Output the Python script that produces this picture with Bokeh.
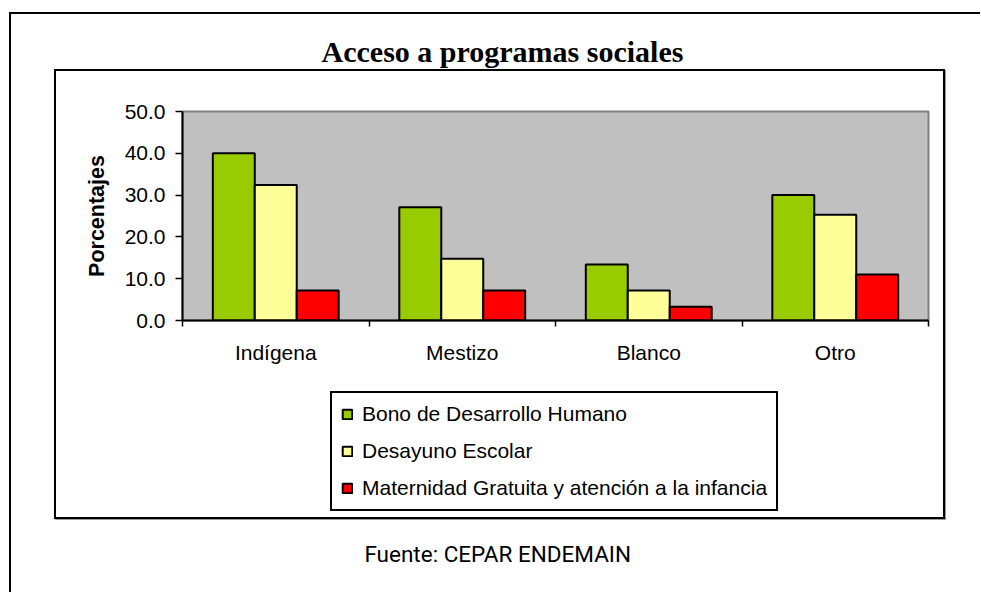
from bokeh.plotting import figure
from bokeh.layouts import column
from bokeh.models import (ColumnDataSource, Range1d, FixedTicker, NumeralTickFormatter,
                          Legend, LegendItem, Label, InlineStyleSheet)
from bokeh.transform import dodge
from bokeh.embed import file_html
from bokeh.resources import INLINE

# ---- data ----
categories = ["Indígena", "Mestizo", "Blanco", "Otro"]
bono = [40.0, 27.1, 13.4, 30.0]
desayuno = [32.4, 14.8, 7.2, 25.3]
maternidad = [7.2, 7.2, 3.3, 11.0]
series_names = ["Bono de Desarrollo Humano", "Desayuno Escolar",
                "Maternidad Gratuita y atención a la infancia"]
y_ticks = [0, 10, 20, 30, 40, 50]

title_text = "Acceso a programas sociales"
source_text = "Fuente:  CEPAR ENDEMAIN"

pos = list(range(1, len(categories) + 1))
src = ColumnDataSource(dict(x=pos, bono=bono, desayuno=desayuno, maternidad=maternidad))

W = 980
TOP_H, MAIN_H, BOT_H = 96, 275, 221
FRAME_L = 182          # frames of the stacked figures are aligned by the column layout
font = "Liberation Sans"
colors = ["#99CC00", "#FFFF99", "#FF0000"]
fields = ["bono", "desayuno", "maternidad"]

css = InlineStyleSheet(css="""
:host { position: relative; }
:host::before { content: ""; position: absolute; left: 9px; top: 12px;
  width: 971px; height: 580px; box-sizing: border-box;
  border-left: 2px solid black; border-top: 2px solid black;
  z-index: 100; pointer-events: none; }
:host::after { content: ""; position: absolute; left: 54px; top: 69px;
  width: 891px; height: 450px; box-sizing: border-box;
  border: 2px solid black; box-shadow: 1px 1px 0 #9a9a9a;
  z-index: 100; pointer-events: none; }
""")


def blank(h):
    f = figure(width=W, height=h, output_backend="svg", toolbar_location=None,
               x_axis_type=None, y_axis_type=None, min_border=0,
               x_range=Range1d(0, 1), y_range=Range1d(0, 1))
    f.outline_line_color = None
    f.background_fill_color = "white"
    f.border_fill_color = "white"
    return f


# ---- title strip ----
top = blank(TOP_H)
top.add_layout(Label(x=502 - FRAME_L, y=TOP_H - 51, x_units="screen", y_units="screen",
                     text=title_text, text_align="center", text_baseline="alphabetic",
                     text_font="Liberation Serif", text_font_style="bold",
                     text_font_size="30px", text_color="black"))

# ---- main chart ----
p = figure(width=W, height=MAIN_H, output_backend="svg", toolbar_location=None,
           x_range=Range1d(0.5, len(categories) + 0.5), y_range=Range1d(0, 50),
           min_border_left=FRAME_L, min_border_right=W - 928, min_border_top=15,
           min_border_bottom=51)
p.background_fill_color = "#C0C0C0"
p.border_fill_color = "white"
p.outline_line_color = "#808080"
p.outline_line_width = 2
p.xgrid.visible = False
p.ygrid.visible = False

bw = 0.225
for i, (f, c) in enumerate(zip(fields, colors)):
    p.vbar(x=dodge("x", (i - 1) * bw, range=p.x_range), top=f, width=bw, bottom=0,
           source=src, fill_color=c, line_color="black", line_width=2)

xa = p.xaxis[0]
xa.ticker = FixedTicker(ticks=pos, minor_ticks=[v - 0.5 for v in pos] + [pos[-1] + 0.5])
xa.major_label_overrides = {k: c for k, c in zip(pos, categories)}
xa.major_tick_in = 0
xa.major_tick_out = 0
xa.minor_tick_in = 0
xa.minor_tick_out = 6
xa.minor_tick_line_color = "black"
xa.minor_tick_line_width = 1.5
xa.axis_line_color = "black"
xa.axis_line_width = 2
xa.major_label_text_font = font
xa.major_label_text_font_size = "21px"
xa.major_label_text_color = "black"
xa.major_label_standoff = 14

ya = p.yaxis[0]
ya.ticker = FixedTicker(ticks=y_ticks)
ya.formatter = NumeralTickFormatter(format="0.0")
ya.major_tick_in = 0
ya.major_tick_out = 7
ya.major_tick_line_color = "black"
ya.major_tick_line_width = 1.5
ya.minor_tick_line_color = None
ya.axis_line_color = "black"
ya.axis_line_width = 2
ya.major_label_text_font = font
ya.major_label_text_font_size = "21px"
ya.major_label_text_color = "black"
ya.major_label_standoff = 10
ya.axis_label = "Porcentajes"
ya.axis_label_text_font = font
ya.axis_label_text_font_size = "21.5px"
ya.axis_label_text_font_style = "bold"
ya.axis_label_text_color = "black"
ya.axis_label_standoff = 13

# ---- legend + source strip ----
# legend swatches come from style-only proxy renderers that hold no drawable point
bot = blank(BOT_H)
nan = float("nan")
proxies = [bot.vbar(x=[nan], top=[nan], width=bw, fill_color=c,
                    line_color="black", line_width=2)
           for c in colors]
items = [LegendItem(label=n, renderers=[r]) for n, r in zip(series_names, proxies)]
legend = Legend(items=items, location=(330 - FRAME_L, 592 - 511), orientation="vertical",
                border_line_color="black", border_line_width=2, border_line_alpha=1.0,
                background_fill_color="white", background_fill_alpha=1,
                label_text_font=font, label_text_font_size="21px", label_text_color="black",
                glyph_width=12, glyph_height=12, label_standoff=9, spacing=13,
                padding=9, margin=0, label_height=24)
bot.add_layout(legend, "center")
bot.add_layout(Label(x=500 - FRAME_L, y=592 - 553, x_units="screen", y_units="screen",
                     text=source_text, text_align="center", text_baseline="middle",
                     text_font="Roboto", text_font_size="22.5px", text_color="black"))

layout = column(top, p, bot, spacing=0, stylesheets=[css])
open("out.html", "w").write(file_html(layout, INLINE))
